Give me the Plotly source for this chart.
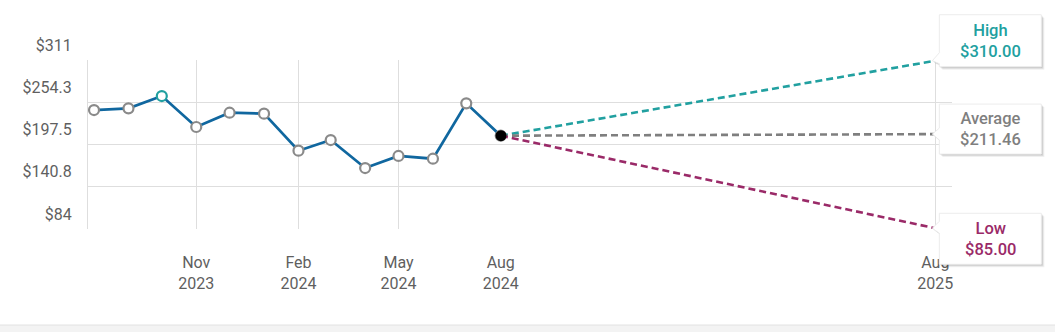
import datetime as dt
import plotly.graph_objects as go

# ---- data -------------------------------------------------------------
hist_dates = ["2023-08-01", "2023-09-01", "2023-10-01", "2023-11-01", "2023-12-01",
              "2024-01-01", "2024-02-01", "2024-03-01", "2024-04-01", "2024-05-01",
              "2024-06-01", "2024-07-01", "2024-08-01"]
hist_prices = [243.8, 246.1, 262.6, 221.0, 240.2, 238.9, 189.2, 203.5,
               165.9, 182.1, 178.4, 252.8, 209.3]

target_date = "2025-08-01"
target_names = ["High", "Average", "Low"]
target_values = [310.00, 211.46, 85.00]

y_tickvals = [84, 140.75, 197.5, 254.25, 311]
y_ticktext = ["$84", "$140.8", "$197.5", "$254.3", "$311"]

hist_tickvals = ["2023-11-01", "2024-02-01", "2024-05-01", "2024-08-01"]
hist_ticktext = ["Nov<br>2023", "Feb<br>2024", "May<br>2024", "Aug<br>2024"]
fc_ticktext = ["Aug<br>2025"]

# ---- styling ----------------------------------------------------------
FONT = "Roboto, 'Open Sans', sans-serif"
LINE_BLUE = "#10679f"
MARKER_GREY = "#8a8a8a"
GRID = "#dedede"
TICK_COLOR = "#5f5f5f"
target_colors = ["#21a0a0", "#7f7f7f", "#9a2a68"]

W, H = 1055, 332
ML, MR, MT, MB = 88, 103, 60, 103
plot_w = W - ML - MR
plot_h = H - MT - MB

# history occupies the left part of the plot, forecast the rest
split = (501 - ML) / plot_w
x1_range = ["2023-07-26 14:00", "2024-08-01 06:00"]
x2_range = ["2024-08-01", "2025-08-15 00:00"]
y_range = [84, 311]

fig = go.Figure()

# price history
peak = max(range(len(hist_prices)), key=lambda i: hist_prices[i])
m_line = [MARKER_GREY] * len(hist_prices)
m_line[peak] = target_colors[0]
fig.add_trace(go.Scatter(
    x=hist_dates, y=hist_prices, xaxis="x", yaxis="y", mode="lines+markers",
    line=dict(color=LINE_BLUE, width=2.7),
    marker=dict(size=10, color="white", line=dict(color=m_line, width=2.2)),
    hoverinfo="skip", showlegend=False, cliponaxis=False))

# forecast dashed lines
for name, val, col in zip(target_names, target_values, target_colors):
    fig.add_trace(go.Scatter(
        x=[hist_dates[-1], target_date], y=[hist_prices[-1], val],
        xaxis="x2", yaxis="y", mode="lines",
        line=dict(color=col, width=2.6, dash="7px,4px"),
        hoverinfo="skip", showlegend=False, name=name))

# latest price, drawn over the start of the forecast lines
fig.add_trace(go.Scatter(
    x=[hist_dates[-1]], y=[hist_prices[-1]], xaxis="x2", yaxis="y",
    mode="markers", marker=dict(size=11, color="black", line=dict(width=0)),
    hoverinfo="skip", showlegend=False, cliponaxis=False))


def to_ms(s):
    return dt.datetime.fromisoformat(s).timestamp()


def x2_paper(s):
    a, b = to_ms(x2_range[0]), to_ms(x2_range[1])
    return split + (to_ms(s) - a) / (b - a) * (1 - split)


def y_paper(v):
    return (v - y_range[0]) / (y_range[1] - y_range[0])


# callout boxes: (top, bottom, pointer top, pointer bottom) in px relative to the target point
box_offsets = [(46, -6, 8, -3), (30, -20, 6, -6), (15, -36, 7, -5)]
box_left, box_right, tip = 4, 106, -3

shapes = []
annotations = []
for name, val, col, (top, bot, ptop, pbot) in zip(target_names, target_values,
                                                  target_colors, box_offsets):
    xa, ya = x2_paper(target_date), y_paper(val)

    def path(dx, dy):
        pts = [(box_left, ptop), (box_left, top), (box_right, top), (box_right, bot),
               (box_left, bot), (box_left, pbot), (tip, 0)]
        return "M " + " L ".join(f"{px + dx},{py + dy}" for px, py in pts) + " Z"

    for dx, dy, alpha in [(3, -3, 0.06), (2, -2, 0.09), (1, -1, 0.12)]:
        shapes.append(dict(type="path", xref="paper", yref="paper",
                           xsizemode="pixel", ysizemode="pixel",
                           xanchor=xa, yanchor=ya, path=path(dx, dy),
                           fillcolor=f"rgba(0,0,0,{alpha})", line=dict(width=0),
                           layer="above"))
    shapes.append(dict(type="path", xref="paper", yref="paper",
                       xsizemode="pixel", ysizemode="pixel",
                       xanchor=xa, yanchor=ya, path=path(0, 0),
                       fillcolor="white", line=dict(color="#ececec", width=1),
                       layer="above"))
    annotations.append(dict(
        x=target_date, y=val, xref="x2", yref="y",
        text=f"{name}<br>${val:,.2f}", showarrow=False,
        xshift=(box_left + box_right) / 2, yshift=(top + bot) / 2,
        font=dict(family=FONT, size=16.5, color=col, weight=500), align="center"))

# footer strip
strip_top = -(325 - (H - MB)) / plot_h
strip_bot = -(H - (H - MB)) / plot_h - 0.01
shapes.append(dict(type="rect", xref="paper", yref="paper",
                   x0=-ML / plot_w, x1=(W - ML) / plot_w, y0=strip_bot, y1=strip_top,
                   fillcolor="#f3f3f3", line=dict(width=0), layer="above"))
shapes.append(dict(type="line", xref="paper", yref="paper",
                   x0=-ML / plot_w, x1=(W - ML) / plot_w, y0=strip_top, y1=strip_top,
                   line=dict(color="#e2e2e2", width=1), layer="above"))

axis_common = dict(type="date", showgrid=True, gridcolor=GRID, gridwidth=1,
                   zeroline=False, showline=False, ticks="",
                   tickfont=dict(family=FONT, size=16, color=TICK_COLOR),
                   ticklabelstandoff=22, fixedrange=True)

fig.update_layout(
    width=W, height=H,
    margin=dict(l=ML, r=MR, t=MT, b=MB, pad=0),
    paper_bgcolor="white", plot_bgcolor="white",
    showlegend=False,
    xaxis=dict(domain=[0, split], range=x1_range, tickmode="array",
               tickvals=hist_tickvals, ticktext=hist_ticktext, anchor="y",
               **axis_common),
    xaxis2=dict(domain=[split, 1], range=x2_range, tickmode="array",
                tickvals=[target_date], ticktext=fc_ticktext, anchor="y",
                **axis_common),
    yaxis=dict(range=y_range, tickmode="array", tickvals=y_tickvals,
               ticktext=y_ticktext, showgrid=True, gridcolor=GRID,
               zeroline=False, showline=True, linecolor=GRID, linewidth=1,
               ticks="", ticklabelshift=-15, ticklabelstandoff=12,
               tickfont=dict(family=FONT, size=16, color=TICK_COLOR),
               fixedrange=True),
    shapes=shapes,
    annotations=annotations,
)

fig.write_html("out.html")
